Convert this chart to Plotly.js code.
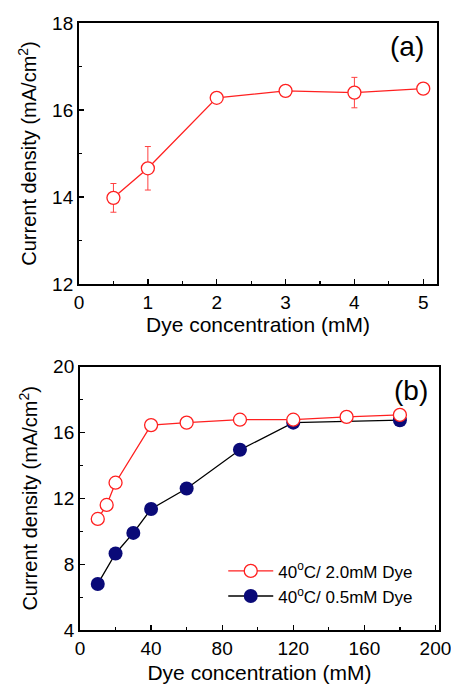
<!DOCTYPE html>
<html>
<head>
<meta charset="utf-8">
<script src="https://cdn.plot.ly/plotly-3.0.1.min.js"></script>
<style>html,body{margin:0;padding:0;background:#fff;}#chart{width:451px;height:684px;}</style>
</head>
<body>
<div id="chart"></div>
<script>
// Panel (a)
const aX = [0.5, 1, 2, 3, 4, 5];
const aY = [13.98, 14.66, 16.28, 16.44, 16.40, 16.49];
const aErr = [0.33, 0.50, 0.10, 0.10, 0.35, 0];

// Panel (b)
const bX_red = [10, 15, 20, 40, 60, 90, 120, 150, 180];
const bY_red = [10.75, 11.6, 12.95, 16.45, 16.6, 16.78, 16.78, 16.95, 17.07];
const bX_navy = [10, 20, 30, 40, 60, 90, 120, 180];
const bY_navy = [6.8, 8.65, 9.9, 11.35, 12.6, 14.95, 16.6, 16.75];
const bErr_navy = [0, 0, 0, 0, 0.3, 0, 0.2, 0];
const legendNames = ["40<sup>o</sup>C/ 2.0mM Dye", "40<sup>o</sup>C/ 0.5mM Dye"];

const RED = '#ff2020';
const NAVY = '#0a0a78';
const FONT = 'Liberation Sans, Arial, sans-serif';

const traces = [
  {x: aX, y: aY, xaxis: 'x', yaxis: 'y', type: 'scatter', mode: 'lines+markers', showlegend: false,
   line: {color: RED, width: 1.3},
   marker: {symbol: 'circle', size: 13, color: '#ffffff', line: {width: 1.3, color: RED}},
   error_y: {type: 'data', array: aErr, visible: true, color: '#ff4040', thickness: 1, width: 3}},
  {x: bX_red, y: bY_red, xaxis: 'x2', yaxis: 'y2', type: 'scatter', mode: 'lines+markers', name: legendNames[0],
   line: {color: RED, width: 1.3},
   marker: {symbol: 'circle', size: 13, color: '#ffffff', line: {width: 1.3, color: RED}}},
  {x: bX_navy, y: bY_navy, xaxis: 'x2', yaxis: 'y2', type: 'scatter', mode: 'lines+markers', name: legendNames[1],
   line: {color: '#000000', width: 1.3},
   marker: {symbol: 'circle', size: 14, color: NAVY, line: {width: 0}},
   error_y: {type: 'data', array: bErr_navy, visible: true, color: NAVY, thickness: 1, width: 3}}
];

// Draw navy first so red sits on top in (b); legend order reversed back
const ordered = [traces[0], traces[2], traces[1]];

function axisCommon() {
  return {
    showline: true, mirror: true, linecolor: '#000', linewidth: 2,
    ticks: 'inside', ticklen: 5, tickwidth: 1.3, tickcolor: '#000',
    showgrid: false, zeroline: false, ticklabeloverflow: 'allow',
    tickfont: {family: FONT, size: 19, color: '#000'}
  };
}

const layout = {
  width: 451, height: 684,
  margin: {l: 0, r: 0, t: 0, b: 0},
  paper_bgcolor: '#fff', plot_bgcolor: '#fff',
  font: {family: FONT, color: '#000'},
  showlegend: true,
  legend: {x: 0.495, y: 0.191, xanchor: 'left', yanchor: 'top', bgcolor: 'rgba(0,0,0,0)',
           itemwidth: 45,
           font: {family: FONT, size: 17, color: '#000'}, traceorder: 'reversed'},
  xaxis: Object.assign(axisCommon(), {
    domain: [0.1752, 0.969], anchor: 'y', range: [0, 5.2], dtick: 1, tick0: 0,
    minor: {dtick: 0.5, tick0: 0, ticks: 'inside', ticklen: 3, tickcolor: '#000', tickwidth: 1.2},
    title: {text: 'Dye concentration (mM)', font: {family: FONT, size: 21}, standoff: 0}
  }),
  yaxis: Object.assign(axisCommon(), {
    domain: [0.5848, 0.9664], anchor: 'x', range: [12, 18], dtick: 2, tick0: 12,
    minor: {dtick: 1, tick0: 12, ticks: 'inside', ticklen: 3, tickcolor: '#000', tickwidth: 1.2},
    title: {text: 'Current density (mA/cm<sup>2</sup>)', font: {family: FONT, size: 20}, standoff: 10}
  }),
  xaxis2: Object.assign(axisCommon(), {
    domain: [0.1774, 0.9734], anchor: 'y2', range: [0, 202], dtick: 40, tick0: 0,
    minor: {dtick: 20, tick0: 0, ticks: 'inside', ticklen: 3, tickcolor: '#000', tickwidth: 1.2},
    title: {text: 'Dye concentration (mM)', font: {family: FONT, size: 21}, standoff: 10}
  }),
  yaxis2: Object.assign(axisCommon(), {
    domain: [0.0789, 0.4639], anchor: 'x2', range: [4, 20], dtick: 4, tick0: 4,
    minor: {dtick: 2, tick0: 4, ticks: 'inside', ticklen: 3, tickcolor: '#000', tickwidth: 1.2},
    title: {text: 'Current density (mA/cm<sup>2</sup>)', font: {family: FONT, size: 20}, standoff: 10}
  }),
  annotations: [
    {text: '(a)', xref: 'paper', yref: 'paper', x: 407/451, y: 1 - 47/684, xanchor: 'center', yanchor: 'middle',
     showarrow: false, font: {family: FONT, size: 28, color: '#000'}},
    {text: '(b)', xref: 'paper', yref: 'paper', x: 411/451, y: 1 - 390/684, xanchor: 'center', yanchor: 'middle',
     showarrow: false, font: {family: FONT, size: 28, color: '#000'}}
  ]
};

Plotly.newPlot('chart', ordered, layout, {staticPlot: true, displayModeBar: false});
</script>
</body>
</html>
